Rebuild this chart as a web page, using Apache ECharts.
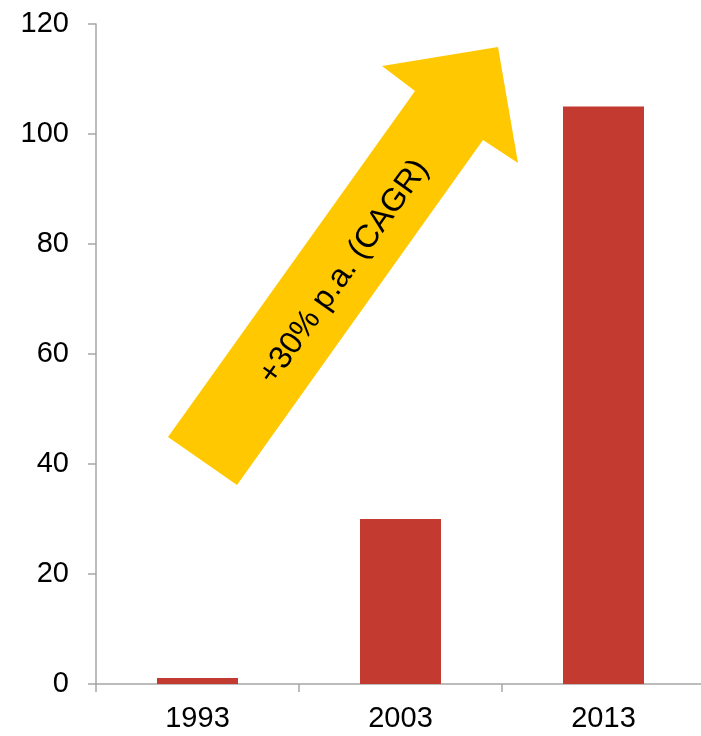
<!DOCTYPE html>
<html><head><meta charset="utf-8">
<script src="https://cdn.jsdelivr.net/npm/echarts@6/dist/echarts.min.js"></script>
<style>html,body{margin:0;padding:0;background:#fff}#c{width:701px;height:736px}</style>
</head><body><div id="c"></div>
<script>
var categories = ['1993', '2003', '2013'];
var values = [1.1, 30, 105];
var yTicks = [0, 20, 40, 60, 80, 100, 120];
var arrowLabel = '+30% p.a. (CAGR)';

var chart = echarts.init(document.getElementById('c'), null, {renderer: 'canvas'});
var font = '"Liberation Sans", Arial, sans-serif';
chart.setOption({
  animation: false,
  grid: {left: 96, width: 609, top: 24, bottom: 52, containLabel: false, outerBoundsMode: 'none'},
  xAxis: {
    type: 'category', data: categories,
    axisLine: {lineStyle: {color: '#a6a6a6', width: 1.5}},
    axisTick: {show: true, alignWithLabel: false, length: 8, lineStyle: {color: '#a6a6a6', width: 1.5}},
    axisLabel: {color: '#000', fontSize: 29, fontFamily: font, margin: 20}
  },
  yAxis: {
    type: 'value', min: 0, max: 120, interval: 20,
    axisLine: {show: true, lineStyle: {color: '#a6a6a6', width: 1.5}},
    axisTick: {show: true, length: 8, lineStyle: {color: '#a6a6a6', width: 1.5}},
    splitLine: {show: false},
    axisLabel: {color: '#000', fontSize: 29, fontFamily: font, margin: 27}
  },
  series: [{
    type: 'bar', data: values, barWidth: 81,
    itemStyle: {color: '#c33a31'}
  }],
  graphic: [
    {
      type: 'polygon', z: 10,
      shape: {points: [[168,437],[415,91],[382,66],[498,47],[518,163],[483,140],[237,485]]},
      style: {fill: '#ffc800'}
    },
    {
      type: 'text', z: 11,
      x: 344, y: 272, rotation: 54.4 * Math.PI / 180,
      style: {text: arrowLabel, fill: '#000', font: '32px "Liberation Sans", Arial, sans-serif', align: 'center', verticalAlign: 'middle'}
    }
  ]
});
</script></body></html>
